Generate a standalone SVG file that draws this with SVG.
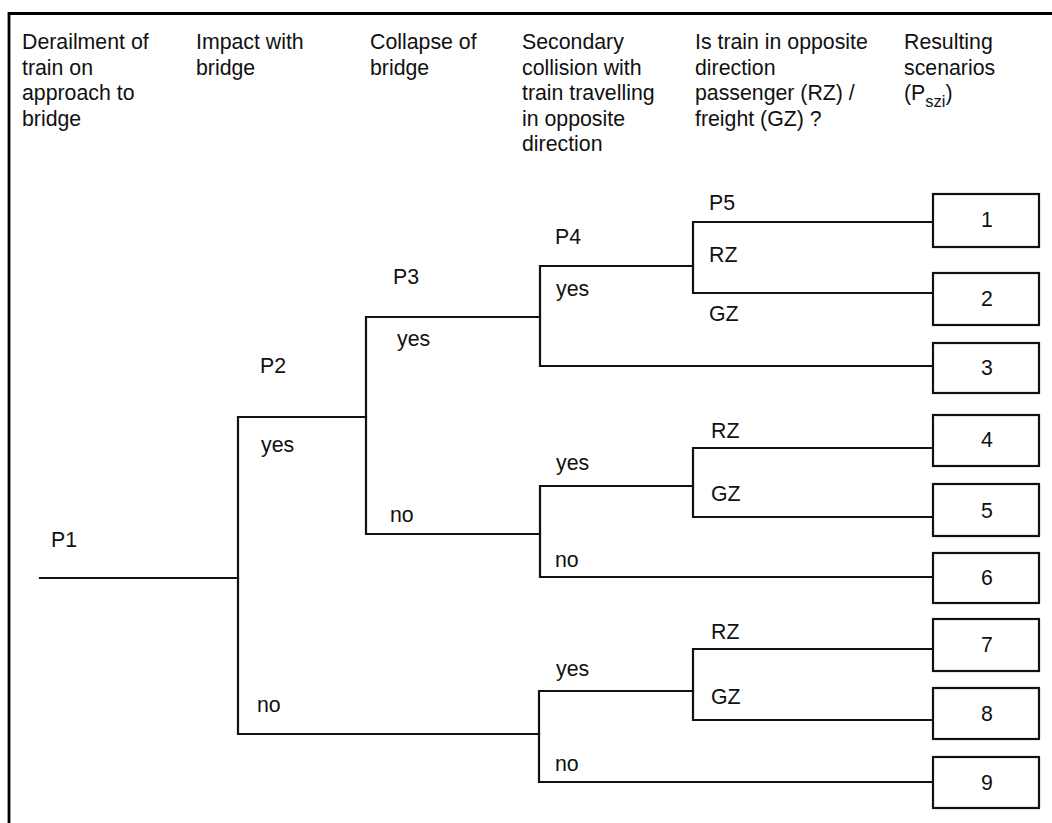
<svg xmlns="http://www.w3.org/2000/svg" width="1052" height="823" viewBox="0 0 1052 823">
<style>
text{font-family:"Liberation Sans",Arial,sans-serif;font-size:21.3px;fill:#111}
.num{text-anchor:middle}
.sub{font-size:16.5px}
.ln{fill:none;stroke:#111;stroke-width:2.2;stroke-linecap:square}
.box{fill:#fff;stroke:#111;stroke-width:2.2}
.frame{fill:none;stroke:#000;stroke-width:2.8}
</style>
<rect width="1052" height="823" fill="#fff"/>
<path class="frame" d="M9,823 V13.5 H1052"/>
<g id="headers">
<text x="22" y="49">Derailment of</text>
<text x="22" y="74.6">train on</text>
<text x="22" y="100.2">approach to</text>
<text x="22" y="125.8">bridge</text>
<text x="196" y="49">Impact with</text>
<text x="196" y="74.6">bridge</text>
<text x="370" y="49">Collapse of</text>
<text x="370" y="74.6">bridge</text>
<text x="522" y="49">Secondary</text>
<text x="522" y="74.6">collision with</text>
<text x="522" y="100.2">train travelling</text>
<text x="522" y="125.8">in opposite</text>
<text x="522" y="151.4">direction</text>
<text x="695" y="49">Is train in opposite</text>
<text x="695" y="74.6">direction</text>
<text x="695" y="100.2">passenger (RZ) /</text>
<text x="695" y="125.8">freight (GZ) ?</text>
<text x="904" y="49">Resulting</text>
<text x="904" y="74.6">scenarios</text>
<text x="904" y="100.2">(P<tspan class="sub" dy="7">szi</tspan><tspan dy="-7">)</tspan></text>
</g>
<g id="connectors">
<path class="ln" d="M40,578 H238"/>
<path class="ln" d="M366,417 H238 V734 H539"/>
<path class="ln" d="M540,317 H366 V534 H540"/>
<path class="ln" d="M693,266 H540 V366 H933"/>
<path class="ln" d="M933,222 H693 V293 H933"/>
<path class="ln" d="M693,486 H540 V577 H933"/>
<path class="ln" d="M933,448 H693 V517 H933"/>
<path class="ln" d="M693,691 H539 V782 H933"/>
<path class="ln" d="M933,649 H693 V720 H933"/>
</g>
<g id="n-p1"><text x="51" y="547">P1</text></g>
<g id="n-p2">
<text x="260" y="373">P2</text>
<text x="261" y="452">yes</text>
<text x="257" y="712">no</text>
</g>
<g id="n-p3">
<text x="393" y="284">P3</text>
<text x="397" y="346">yes</text>
<text x="390" y="522">no</text>
</g>
<g id="n-p4a">
<text x="555" y="244">P4</text>
<text x="556" y="296">yes</text>
</g>
<g id="n-p5a">
<text x="709" y="210">P5</text>
<text x="709" y="262">RZ</text>
<text x="709" y="321">GZ</text>
</g>
<g id="n-p4b">
<text x="556" y="470">yes</text>
<text x="555" y="567">no</text>
</g>
<g id="n-p5b">
<text x="711" y="438">RZ</text>
<text x="711" y="501">GZ</text>
</g>
<g id="n-p4c">
<text x="556" y="676">yes</text>
<text x="555" y="771">no</text>
</g>
<g id="n-p5c">
<text x="711" y="639">RZ</text>
<text x="711" y="704">GZ</text>
</g>
<g id="s1"><rect class="box" x="933" y="194" width="106" height="53"/><text class="num" x="987" y="227">1</text></g>
<g id="s2"><rect class="box" x="933" y="273" width="106" height="52"/><text class="num" x="987" y="306">2</text></g>
<g id="s3"><rect class="box" x="933" y="343" width="106" height="50"/><text class="num" x="987" y="375">3</text></g>
<g id="s4"><rect class="box" x="933" y="415" width="106" height="51"/><text class="num" x="987" y="447">4</text></g>
<g id="s5"><rect class="box" x="933" y="484" width="106" height="52"/><text class="num" x="987" y="518">5</text></g>
<g id="s6"><rect class="box" x="933" y="553" width="106" height="50"/><text class="num" x="987" y="585">6</text></g>
<g id="s7"><rect class="box" x="933" y="619" width="106" height="52"/><text class="num" x="987" y="652">7</text></g>
<g id="s8"><rect class="box" x="933" y="688" width="106" height="51"/><text class="num" x="987" y="721">8</text></g>
<g id="s9"><rect class="box" x="933" y="757" width="106" height="51"/><text class="num" x="987" y="790">9</text></g>
</svg>
